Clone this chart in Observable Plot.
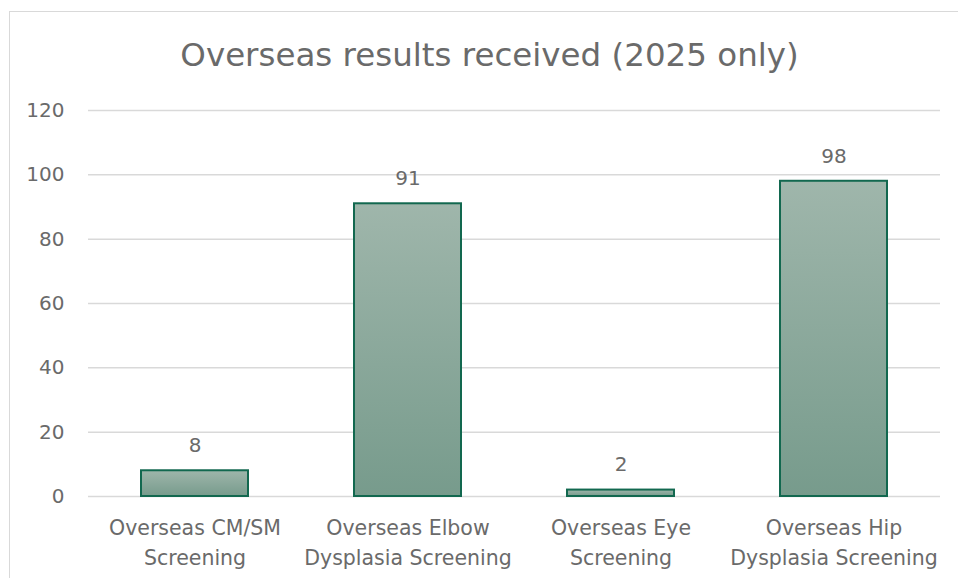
<!DOCTYPE html>
<html>
<head>
<meta charset="utf-8">
<script src="https://cdn.jsdelivr.net/npm/d3@7"></script>
<script src="https://cdn.jsdelivr.net/npm/@observablehq/plot@0.6"></script>
<style>
  html, body { margin: 0; padding: 0; background: #fff; }
  #wrap { position: relative; width: 958px; height: 578px; overflow: hidden; }
  #frame { position: absolute; left: 9px; top: 11px; width: 1000px; height: 700px;
           border-left: 1.5px solid #d9d9d9; border-top: 1.5px solid #d9d9d9; box-sizing: border-box; }
  #title { position: absolute; left: 15px; width: 949px; top: 35px; text-align: center;
           font-family: "DejaVu Sans", sans-serif;
           font-size: 32.5px; color: #6a6a6a; line-height: 40px; }
  #chart { position: absolute; left: 0; top: 0; }
</style>
</head>
<body>
<div id="wrap">
  <div id="frame"></div>
  <div id="chart"></div>
  <div id="title">Overseas results received (2025 only)</div>
</div>
<script>
const categories = ["Overseas CM/SM Screening", "Overseas Elbow Dysplasia Screening", "Overseas Eye Screening", "Overseas Hip Dysplasia Screening"];
const categoryLabels = ["Overseas CM/SM\nScreening", "Overseas Elbow\nDysplasia Screening", "Overseas Eye\nScreening", "Overseas Hip\nDysplasia Screening"];
const values = [8, 91, 2, 98];
const yTicks = [0, 20, 40, 60, 80, 100, 120];

const data = categories.map((c, i) => ({cat: c, value: values[i]}));
const labelOf = new Map(categories.map((c, i) => [c, categoryLabels[i]]));

const font = "'DejaVu Sans', sans-serif";
const textColor = "#6a6a6a";

const plot = Plot.plot({
  width: 958,
  height: 578,
  marginLeft: 88,
  marginRight: 18,
  marginTop: 110,
  marginBottom: 82,
  style: {fontFamily: font, fontSize: "20px", color: textColor, background: "transparent"},
  x: {domain: categories, paddingInner: 0.5, paddingOuter: 0.25, label: null},
  y: {domain: [0, 120], label: null},
  marks: [
    Plot.gridY(yTicks, {stroke: "#d9d9d9", strokeOpacity: 1, strokeWidth: 1.5}),
    Plot.axisY(yTicks, {tickSize: 0, tickPadding: 24, fontSize: 20, fill: textColor, label: null}),
    Plot.axisX({tickSize: 0, tickPadding: 17, fontSize: 20.5, fill: textColor, label: null,
                tickFormat: d => labelOf.get(d), lineHeight: 1.47}),
    Plot.barY(data, {x: "cat", y: "value", fill: "url(#barGrad)", stroke: "#12684f", strokeWidth: 2}),
    Plot.text(data, {x: "cat", y: "value", text: d => String(d.value), dy: -25,
                     fontSize: 20, fill: textColor, lineAnchor: "middle"})
  ]
});

d3.select(plot).insert("defs", ":first-child").html(
  `<linearGradient id="barGrad" x1="0" y1="0" x2="0" y2="1">
     <stop offset="0" stop-color="#9fb6ab"/>
     <stop offset="1" stop-color="#779b8c"/>
   </linearGradient>`);

document.getElementById("chart").appendChild(plot);
</script>
</body>
</html>
